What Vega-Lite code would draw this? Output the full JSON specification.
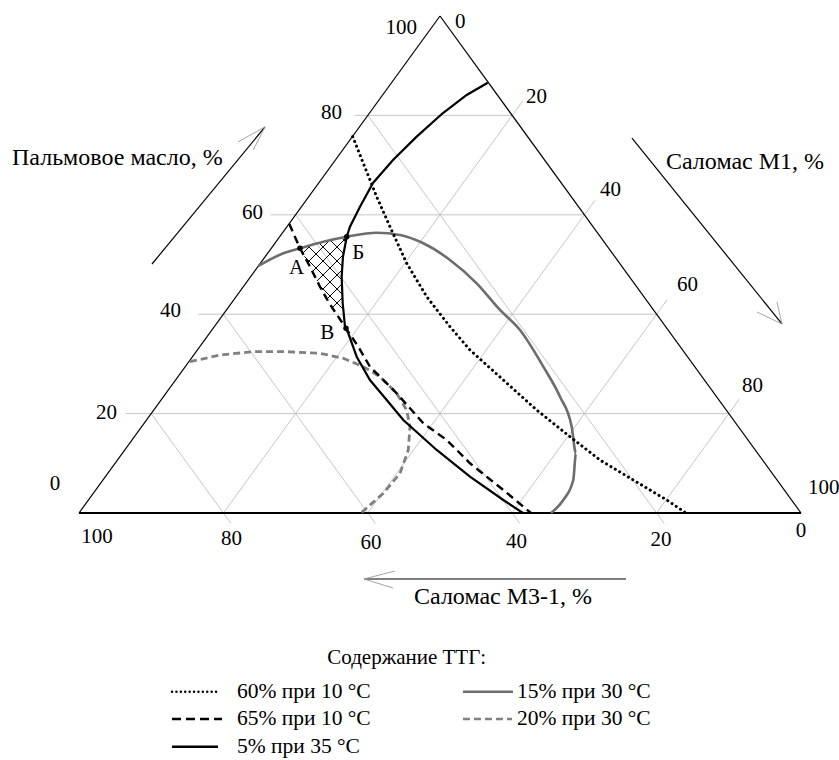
{
  "$schema": "https://vega.github.io/schema/vega-lite/v6.json",
  "width": 839,
  "height": 760,
  "autosize": {"type": "none"},
  "padding": 0,
  "background": "white",
  "config": {"view": {"stroke": null}, "text": {"font": "Liberation Serif", "fill": "black"}},
  "datasets": {
    "grid": [
      {"x": 6.5, "y": 20, "x2": 90, "y2": 20},
      {"x": 16.5, "y": 40, "x2": 80, "y2": 40},
      {"x": 26.5, "y": 60, "x2": 70, "y2": 60},
      {"x": 38.2, "y": 80, "x2": 60, "y2": 80},
      {"x": 20, "y": 0, "x2": 61.47, "y2": 82.93},
      {"x": 40, "y": 0, "x2": 71.47, "y2": 62.93},
      {"x": 60, "y": 0, "x2": 81.47, "y2": 42.93},
      {"x": 80, "y": 0, "x2": 91.47, "y2": 22.93},
      {"x": 10, "y": 20, "x2": 21.06, "y2": -2.12},
      {"x": 20, "y": 40, "x2": 41.06, "y2": -2.12},
      {"x": 30, "y": 60, "x2": 61.06, "y2": -2.12},
      {"x": 40, "y": 80, "x2": 81.06, "y2": -2.12}
    ],
    "frame": [
      {"x": 0, "y": 0, "x2": 50, "y2": 100},
      {"x": 50, "y": 100, "x2": 100, "y2": 0}
    ],
    "base": [{"x": 0, "y": 0, "x2": 100, "y2": 0}],
    "hatch": [
      {"x": 36.44, "y": 55.31, "x2": 36.99, "y2": 54.51},
      {"x": 34.87, "y": 54.77, "x2": 36.70, "y2": 52.11},
      {"x": 33.30, "y": 54.25, "x2": 36.51, "y2": 49.58},
      {"x": 31.73, "y": 53.70, "x2": 36.40, "y2": 46.92},
      {"x": 31.22, "y": 51.63, "x2": 36.48, "y2": 43.98},
      {"x": 33.24, "y": 45.88, "x2": 36.55, "y2": 41.07},
      {"x": 31.00, "y": 52.27, "x2": 32.05, "y2": 53.80},
      {"x": 31.66, "y": 50.42, "x2": 34.58, "y2": 54.67},
      {"x": 32.31, "y": 48.55, "x2": 37.12, "y2": 55.53},
      {"x": 32.96, "y": 46.68, "x2": 36.70, "y2": 52.11},
      {"x": 33.63, "y": 44.83, "x2": 36.48, "y2": 48.97},
      {"x": 34.33, "y": 43.04, "x2": 36.43, "y2": 46.08},
      {"x": 35.07, "y": 41.29, "x2": 36.49, "y2": 43.36}
    ],
    "c5": [
      {"i": 0, "x": 56.61, "y": 86.58}, {"i": 1, "x": 53.70, "y": 84.11}, {"i": 2, "x": 50.41, "y": 80.48},
      {"i": 3, "x": 46.77, "y": 75.72}, {"i": 4, "x": 43.49, "y": 71.03}, {"i": 5, "x": 40.72, "y": 66.40},
      {"i": 6, "x": 38.92, "y": 61.63}, {"i": 7, "x": 37.53, "y": 57.61}, {"i": 8, "x": 37.08, "y": 55.59},
      {"i": 9, "x": 36.56, "y": 51.57}, {"i": 10, "x": 36.38, "y": 47.55}, {"i": 11, "x": 36.52, "y": 42.25},
      {"i": 12, "x": 36.84, "y": 37.49}, {"i": 13, "x": 37.30, "y": 36.16}, {"i": 14, "x": 38.46, "y": 31.45},
      {"i": 15, "x": 40.30, "y": 26.76}, {"i": 16, "x": 42.62, "y": 22.74}, {"i": 17, "x": 44.92, "y": 18.71},
      {"i": 18, "x": 49.54, "y": 12.68}, {"i": 19, "x": 54.15, "y": 7.30}, {"i": 20, "x": 58.77, "y": 2.62},
      {"i": 21, "x": 61.49, "y": 0}
    ],
    "c65": [
      {"i": 0, "x": 29.13, "y": 58.15}, {"i": 1, "x": 30.61, "y": 53.26}, {"i": 2, "x": 31.99, "y": 49.56},
      {"i": 3, "x": 33.38, "y": 45.53}, {"i": 4, "x": 34.67, "y": 42.19}, {"i": 5, "x": 36.98, "y": 37.16},
      {"i": 6, "x": 38.68, "y": 33.46}, {"i": 7, "x": 40.30, "y": 29.44}, {"i": 8, "x": 44.00, "y": 24.08},
      {"i": 9, "x": 47.69, "y": 18.05}, {"i": 10, "x": 50.93, "y": 14.69}, {"i": 11, "x": 54.15, "y": 10.00},
      {"i": 12, "x": 58.77, "y": 4.63}, {"i": 13, "x": 62.60, "y": 0}
    ],
    "c60": [
      {"i": 0, "x": 37.91, "y": 75.72}, {"i": 1, "x": 39.38, "y": 70.36}, {"i": 2, "x": 41.23, "y": 63.64},
      {"i": 3, "x": 43.07, "y": 57.61}, {"i": 4, "x": 45.39, "y": 50.24}, {"i": 5, "x": 48.16, "y": 43.52},
      {"i": 6, "x": 51.38, "y": 37.49}, {"i": 7, "x": 54.15, "y": 32.80}, {"i": 8, "x": 58.77, "y": 26.76},
      {"i": 9, "x": 63.39, "y": 20.72}, {"i": 10, "x": 68.00, "y": 15.35}, {"i": 11, "x": 72.16, "y": 10.66},
      {"i": 12, "x": 76.77, "y": 6.64}, {"i": 13, "x": 81.40, "y": 2.62}, {"i": 14, "x": 84.07, "y": 0}
    ],
    "c15": [
      {"i": 0, "x": 24.83, "y": 49.70}, {"i": 1, "x": 28.30, "y": 52.25}, {"i": 2, "x": 30.61, "y": 53.26},
      {"i": 3, "x": 33.84, "y": 54.59}, {"i": 4, "x": 37.08, "y": 55.59}, {"i": 5, "x": 41.23, "y": 56.40},
      {"i": 6, "x": 44.46, "y": 55.94}, {"i": 7, "x": 47.69, "y": 54.27}, {"i": 8, "x": 51.38, "y": 50.91},
      {"i": 9, "x": 55.08, "y": 46.22}, {"i": 10, "x": 58.31, "y": 40.85}, {"i": 11, "x": 61.08, "y": 36.82},
      {"i": 12, "x": 64.31, "y": 29.44}, {"i": 13, "x": 66.62, "y": 23.40}, {"i": 14, "x": 68.24, "y": 17.36},
      {"i": 15, "x": 68.83, "y": 12.01}, {"i": 16, "x": 68.46, "y": 6.64}, {"i": 17, "x": 67.08, "y": 2.62},
      {"i": 18, "x": 65.37, "y": 0}
    ],
    "c20": [
      {"i": 0, "x": 15.37, "y": 30.44}, {"i": 1, "x": 19.53, "y": 31.79}, {"i": 2, "x": 24.14, "y": 32.46},
      {"i": 3, "x": 28.77, "y": 32.46}, {"i": 4, "x": 33.38, "y": 32.13}, {"i": 5, "x": 36.61, "y": 31.13},
      {"i": 6, "x": 39.38, "y": 29.44}, {"i": 7, "x": 41.69, "y": 27.42}, {"i": 8, "x": 44.00, "y": 24.08},
      {"i": 9, "x": 45.39, "y": 20.72}, {"i": 10, "x": 45.84, "y": 17.36}, {"i": 11, "x": 45.61, "y": 12.68},
      {"i": 12, "x": 44.46, "y": 7.99}, {"i": 13, "x": 42.15, "y": 3.96}, {"i": 14, "x": 39.06, "y": 0}
    ],
    "pts": [
      {"x": 30.61, "y": 53.26}, {"x": 37.08, "y": 55.59}, {"x": 36.98, "y": 37.16}
    ],
    "arrows": [
      {"x": 10.11, "y": 50.10, "x2": 25.76, "y2": 77.67},
      {"x": 76.59, "y": 75.45, "x2": 97.37, "y2": 38.03},
      {"x": 75.76, "y": -13.28, "x2": 39.47, "y2": -13.28}
    ],
    "barbs": [
      {"x": 25.76, "y": 77.67, "x2": 22.02, "y2": 74.65},
      {"x": 25.76, "y": 77.67, "x2": 24.14, "y2": 73.04},
      {"x": 97.37, "y": 38.03, "x2": 93.90, "y2": 40.44},
      {"x": 97.37, "y": 38.03, "x2": 96.67, "y2": 42.46},
      {"x": 39.47, "y": -13.28, "x2": 43.77, "y2": -11.67},
      {"x": 39.47, "y": -13.28, "x2": 43.49, "y2": -15.09}
    ],
    "tleft": [
      {"x": 52.08, "y": 98.79, "t": "0"},
      {"x": 61.91, "y": 83.70, "t": "20"},
      {"x": 72.16, "y": 64.99, "t": "40"},
      {"x": 82.82, "y": 45.88, "t": "60"},
      {"x": 91.83, "y": 25.55, "t": "80"},
      {"x": 100.97, "y": 5.03, "t": "100"}
    ],
    "legtext": [
      {"x": 21.88, "y": -35.96, "t": "60% при 10 °C"},
      {"x": 21.88, "y": -41.45, "t": "65% при 10 °C"},
      {"x": 21.88, "y": -47.02, "t": "5% при 35 °C"},
      {"x": 60.66, "y": -35.96, "t": "15% при 30 °C"},
      {"x": 60.66, "y": -41.45, "t": "20% при 30 °C"}
    ],
    "tright": [
      {"x": 46.81, "y": 97.59, "t": "100"},
      {"x": 36.43, "y": 80.48, "t": "80"},
      {"x": 25.48, "y": 60.36, "t": "60"},
      {"x": 14.13, "y": 40.64, "t": "40"},
      {"x": 5.26, "y": 20.12, "t": "20"}
    ],
    "tcenter": [
      {"x": -3.32, "y": 5.84, "t": "0"},
      {"x": 2.49, "y": -4.83, "t": "100"},
      {"x": 21.12, "y": -5.23, "t": "80"},
      {"x": 40.44, "y": -6.04, "t": "60"},
      {"x": 60.59, "y": -5.84, "t": "40"},
      {"x": 80.61, "y": -5.43, "t": "20"},
      {"x": 100.0, "y": -3.62, "t": "0"},
      {"x": 45.39, "y": -29.24, "t": "Содержание ТТГ:"},
      {"x": 30.15, "y": 49.24, "t": "А"},
      {"x": 38.68, "y": 52.25, "t": "Б"},
      {"x": 34.39, "y": 36.16, "t": "В"}
    ],
    "titles": [
      {"x": -9.28, "y": 71.43, "t": "Пальмовое масло, %"},
      {"x": 81.30, "y": 70.62, "t": "Саломас М1, %"},
      {"x": 46.40, "y": -16.90, "t": "Саломас М3-1, %"}
    ]
  },
  "encoding": {
    "x": {"field": "x", "type": "quantitative", "scale": {"domain": [-10.9418, 105.2632], "nice": false, "zero": false}, "axis": null},
    "y": {"field": "y", "type": "quantitative", "scale": {"domain": [-49.6982, 103.2193], "nice": false, "zero": false}, "axis": null}
  },
  "layer": [
    {"data": {"name": "grid"}, "mark": {"type": "rule", "stroke": "#b8b8b8", "strokeWidth": 0.8}, "encoding": {"x2": {"field": "x2"}, "y2": {"field": "y2"}}},
    {"data": {"name": "frame"}, "mark": {"type": "rule", "stroke": "black", "strokeWidth": 1.2}, "encoding": {"x2": {"field": "x2"}, "y2": {"field": "y2"}}},
    {"data": {"name": "base"}, "mark": {"type": "rule", "stroke": "black", "strokeWidth": 1.8}, "encoding": {"x2": {"field": "x2"}, "y2": {"field": "y2"}}},
    {"data": {"name": "hatch"}, "mark": {"type": "rule", "stroke": "black", "strokeWidth": 1}, "encoding": {"x2": {"field": "x2"}, "y2": {"field": "y2"}}},
    {"data": {"name": "c15"}, "mark": {"type": "line", "stroke": "#6d6d6d", "strokeWidth": 2.6, "interpolate": "monotone"}, "encoding": {"order": {"field": "i", "type": "quantitative"}}},
    {"data": {"name": "c20"}, "mark": {"type": "line", "stroke": "#808080", "strokeWidth": 2.8, "strokeDash": [7, 4]}, "encoding": {"order": {"field": "i", "type": "quantitative"}}},
    {"data": {"name": "c60"}, "mark": {"type": "line", "stroke": "black", "strokeWidth": 3, "strokeDash": [0.1, 5], "strokeCap": "round"}, "encoding": {"order": {"field": "i", "type": "quantitative"}}},
    {"data": {"name": "c65"}, "mark": {"type": "line", "stroke": "black", "strokeWidth": 2.4, "strokeDash": [8, 5]}, "encoding": {"order": {"field": "i", "type": "quantitative"}}},
    {"data": {"name": "c5"}, "mark": {"type": "line", "stroke": "black", "strokeWidth": 2.2}, "encoding": {"order": {"field": "i", "type": "quantitative"}}},
    {"data": {"name": "pts"}, "mark": {"type": "point", "filled": true, "color": "black", "size": 30, "opacity": 1}},
    {"data": {"name": "arrows"}, "mark": {"type": "rule", "stroke": "black", "strokeWidth": 1.2}, "encoding": {"x2": {"field": "x2"}, "y2": {"field": "y2"}}},
    {"data": {"name": "barbs"}, "mark": {"type": "rule", "stroke": "#9a9a9a", "strokeWidth": 0.9}, "encoding": {"x2": {"field": "x2"}, "y2": {"field": "y2"}}},
    {"data": {"values": [{"x": 12.88, "y": -35.96, "x2": 19.53}]}, "mark": {"type": "rule", "stroke": "black", "strokeWidth": 2.4, "strokeDash": [0.1, 4.3], "strokeCap": "round"}, "encoding": {"x2": {"field": "x2"}}},
    {"data": {"values": [{"x": 12.88, "y": -41.45, "x2": 19.81}]}, "mark": {"type": "rule", "stroke": "black", "strokeWidth": 2.4, "strokeDash": [9, 5]}, "encoding": {"x2": {"field": "x2"}}},
    {"data": {"values": [{"x": 12.88, "y": -47.02, "x2": 19.25}]}, "mark": {"type": "rule", "stroke": "black", "strokeWidth": 2.4}, "encoding": {"x2": {"field": "x2"}}},
    {"data": {"values": [{"x": 53.18, "y": -35.96, "x2": 60.11}]}, "mark": {"type": "rule", "stroke": "#6d6d6d", "strokeWidth": 2.6}, "encoding": {"x2": {"field": "x2"}}},
    {"data": {"values": [{"x": 53.18, "y": -41.45, "x2": 59.97}]}, "mark": {"type": "rule", "stroke": "#808080", "strokeWidth": 2.6, "strokeDash": [7, 4]}, "encoding": {"x2": {"field": "x2"}}},
    {"data": {"name": "tleft"}, "mark": {"type": "text", "align": "left", "baseline": "middle", "fontSize": 21}, "encoding": {"text": {"field": "t"}}},
    {"data": {"name": "legtext"}, "mark": {"type": "text", "align": "left", "baseline": "middle", "fontSize": 21.5}, "encoding": {"text": {"field": "t"}}},
    {"data": {"name": "tright"}, "mark": {"type": "text", "align": "right", "baseline": "middle", "fontSize": 21}, "encoding": {"text": {"field": "t"}}},
    {"data": {"name": "tcenter"}, "mark": {"type": "text", "align": "center", "baseline": "middle", "fontSize": 21}, "encoding": {"text": {"field": "t"}}},
    {"data": {"name": "titles"}, "mark": {"type": "text", "align": "left", "baseline": "middle", "fontSize": 24}, "encoding": {"text": {"field": "t"}}}
  ]
}
